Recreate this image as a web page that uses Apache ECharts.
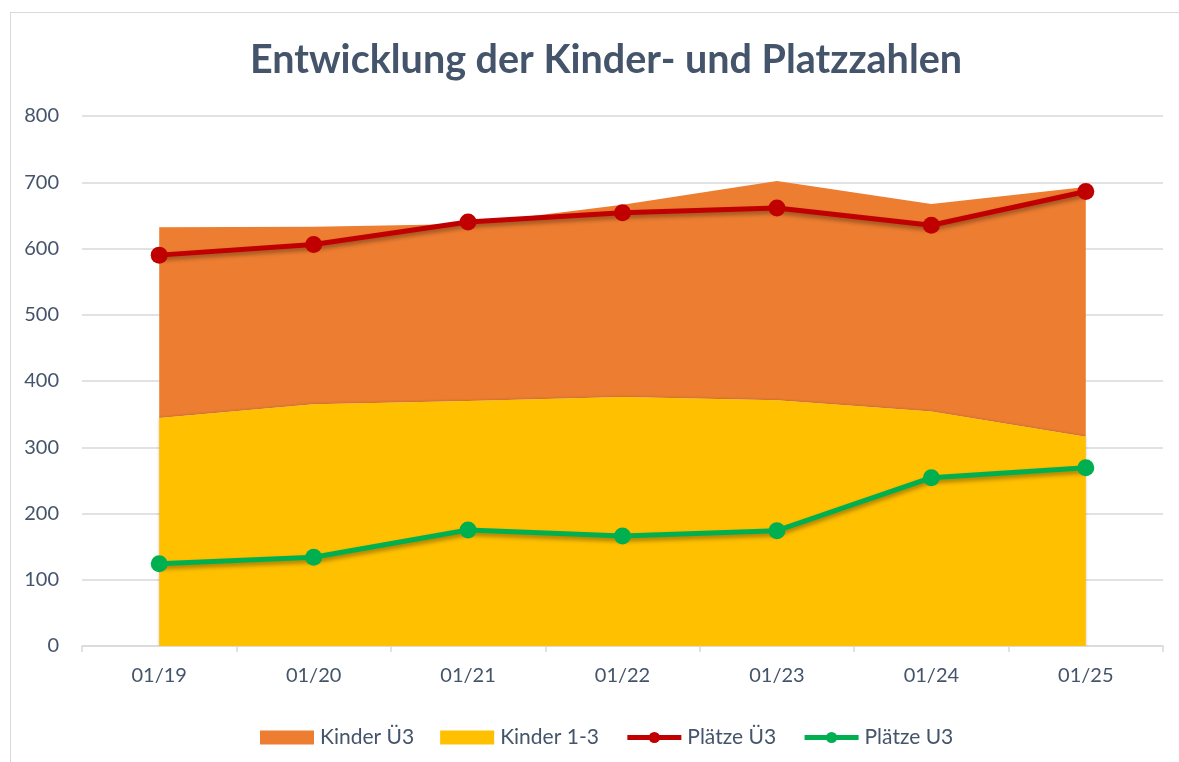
<!DOCTYPE html>
<html lang="de">
<head>
    <meta charset="UTF-8">
    <title>Entwicklung der Kinder- und Platzzahlen</title>
    <script src="https://cdn.jsdelivr.net/npm/echarts@6/dist/echarts.min.js"></script>
    <style>
        html, body { margin: 0; padding: 0; background: #fff; }
        #rahmen { position: absolute; left: 10px; top: 12px; width: 1200px; height: 800px; border: 1px solid #d9d9d9; box-sizing: border-box; }
        #chart { position: absolute; left: 0; top: 0; width: 1179px; height: 762px; }
    </style>
</head>
<body>
<div id="rahmen"></div>
<div id="chart"></div>
<script>
    // Daten
    var jahre = ['01/19', '01/20', '01/21', '01/22', '01/23', '01/24', '01/25'];
    var kinder13 = [344, 365, 370, 376, 371, 354, 316];
    var kinderUe3 = [288, 268, 267, 290, 331, 313, 377];
    var plaetzeUe3 = [590, 606, 640, 654, 661, 635, 686];
    var plaetzeU3 = [124, 134, 175, 166, 174, 254, 269];

    var schrift = 'Lato';
    var textFarbe = '#44546a';
    var schatten = { shadowColor: 'rgba(0,0,0,0.35)', shadowBlur: 4, shadowOffsetY: 3 };

    var chart = echarts.init(document.getElementById('chart'));

    var option = {
        title: {
            text: 'Entwicklung der Kinder- und Platzzahlen',
            left: 601,
            textAlign: 'center',
            top: 35,
            textStyle: { fontFamily: schrift, fontSize: 39.5, fontWeight: 'bold', color: textFarbe }
        },
        legend: {
            top: 722,
            left: 255,
            width: 900,
            itemGap: 26,
            itemWidth: 54,
            itemHeight: 14,
            textStyle: { fontFamily: schrift, fontSize: 21, color: textFarbe, padding: [0, 0, 0, 1] },
            data: [
                { name: 'Kinder Ü3', icon: 'rect' },
                { name: 'Kinder 1-3', icon: 'rect' },
                { name: 'Plätze Ü3', lineStyle: { width: 5, shadowBlur: 0, shadowOffsetY: 0 } },
                { name: 'Plätze U3', lineStyle: { width: 5, shadowBlur: 0, shadowOffsetY: 0 } }
            ]
        },
        grid: { left: 82, right: 16, top: 116, height: 530 },
        xAxis: {
            type: 'category',
            data: jahre,
            boundaryGap: true,
            axisLine: { lineStyle: { color: '#d9d9d9', width: 1.5 } },
            axisTick: { show: true, length: 6, lineStyle: { color: '#d9d9d9', width: 1.5 } },
            axisLabel: { fontFamily: schrift, fontSize: 20, color: textFarbe, margin: 20 }
        },
        yAxis: {
            type: 'value',
            min: 0,
            max: 800,
            interval: 100,
            axisLine: { show: false },
            axisTick: { show: false },
            axisLabel: { fontFamily: schrift, fontSize: 20, color: textFarbe, margin: 23 },
            splitLine: { lineStyle: { color: '#d9d9d9', width: 1.5 } }
        },
        series: [
            {
                name: 'Kinder 1-3',
                type: 'line',
                stack: 'kinder',
                data: kinder13,
                color: '#ffc000',
                showSymbol: false,
                symbol: 'none',
                lineStyle: { width: 0 },
                areaStyle: { color: '#ffc000', opacity: 1, shadowColor: 'rgba(0,0,0,0.25)', shadowBlur: 3 },
                z: 2
            },
            {
                name: 'Kinder Ü3',
                type: 'line',
                stack: 'kinder',
                data: kinderUe3,
                color: '#ed7d31',
                showSymbol: false,
                symbol: 'none',
                lineStyle: { width: 0 },
                areaStyle: { color: '#ed7d31', opacity: 1 },
                z: 1
            },
            {
                name: 'Plätze Ü3',
                type: 'line',
                data: plaetzeUe3,
                color: '#c00000',
                symbol: 'circle',
                symbolSize: 17,
                lineStyle: Object.assign({ width: 5, color: '#c00000' }, schatten),
                itemStyle: { color: '#c00000' },
                z: 5
            },
            {
                name: 'Plätze U3',
                type: 'line',
                data: plaetzeU3,
                color: '#00b050',
                symbol: 'circle',
                symbolSize: 17,
                lineStyle: Object.assign({ width: 5, color: '#00b050' }, schatten),
                itemStyle: { color: '#00b050' },
                z: 5
            }
        ]
    };

    chart.setOption(option);
</script>
</body>
</html>
